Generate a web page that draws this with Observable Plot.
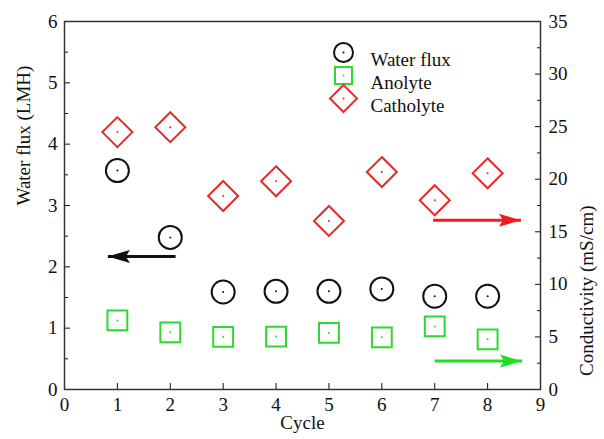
<!DOCTYPE html>
<html>
<head>
<meta charset="utf-8">
<script src="https://cdn.jsdelivr.net/npm/d3@7"></script>
<script src="https://cdn.jsdelivr.net/npm/@observablehq/plot@0.6"></script>
<style>
  html, body { margin: 0; padding: 0; background: #fff; }
  #chart svg { display: block; }
  #chart svg, #chart svg text, #chart svg g { font-family: "Liberation Serif", "Times New Roman", serif !important; }
</style>
</head>
<body>
<div id="chart"></div>
<script>
// ---- data ----
const cycles = [1, 2, 3, 4, 5, 6, 7, 8];
const waterFlux = [3.57, 2.48, 1.59, 1.60, 1.60, 1.64, 1.52, 1.52];      // LMH (left axis)
const anolyte = [6.57, 5.44, 5.00, 5.03, 5.38, 4.96, 6.00, 4.77];         // mS/cm (right axis)
const catholyte = [24.48, 24.95, 18.4, 19.8, 16.03, 20.68, 18.0, 20.56];  // mS/cm (right axis)

const xTickLabels = [0, 1, 2, 3, 4, 5, 6, 7, 8, 9];
const xInnerTicks = [1, 2, 3, 4, 5, 6, 7, 8];
const leftTicks = [0, 1, 2, 3, 4, 5, 6];
const leftMinor = [0.5, 1.5, 2.5, 3.5, 4.5, 5.5];
const rightTicks = [0, 5, 10, 15, 20, 25, 30, 35];
const rightMinor = [2.5, 7.5, 12.5, 17.5, 22.5, 27.5, 32.5];

const seriesNames = ["Water flux", "Anolyte", "Catholyte"];
// arrows: [axis, cycle from, cycle to (tip), value]
const arrowSpecs = [
  {axis: "left", from: 2.1, to: 0.82, value: 2.17, color: "#111111"},
  {axis: "right", from: 6.97, to: 8.63, value: 16.1, color: "#ee1c1c"},
  {axis: "right", from: 7.0, to: 8.65, value: 2.7, color: "#22dd22"}
];

// ---- mapping of the right axis onto the left scale ----
const LEFT_MAX = 6, RIGHT_MAX = 35;
const k = LEFT_MAX / RIGHT_MAX;

const BLACK = "#111111", GREEN = "#2fd82f", RED = "#e62a2a";
const FONT = "'Liberation Serif', 'Times New Roman', serif";

const fluxData = cycles.map((c, i) => ({c, v: waterFlux[i]}));
const anoData = cycles.map((c, i) => ({c, v: anolyte[i] * k}));
const cathData = cycles.map((c, i) => ({c, v: catholyte[i] * k}));
const arrows = arrowSpecs.map(a => ({...a, y: a.axis === "left" ? a.value : a.value * k}));

const headRight = {draw(ctx) { ctx.moveTo(0, 0); ctx.lineTo(-22, -6.5); ctx.lineTo(-18, 0); ctx.lineTo(-22, 6.5); ctx.closePath(); }};
const headLeft = {draw(ctx) { ctx.moveTo(0, 0); ctx.lineTo(22, -6.5); ctx.lineTo(18, 0); ctx.lineTo(22, 6.5); ctx.closePath(); }};
const diamondSym = {draw(ctx, size) { const r = Math.sqrt(size / Math.PI) * 1.25; ctx.moveTo(0, -r); ctx.lineTo(r, 0); ctx.lineTo(0, r); ctx.lineTo(-r, 0); ctx.closePath(); }};

const legendStyles = [
  {symbol: "circle", r: 9.5, stroke: BLACK},
  {symbol: "square", r: 9.6, stroke: GREEN},
  {symbol: diamondSym, r: 10.8, stroke: RED}
];
const legendMarks = seriesNames.flatMap((name, i) => {
  const s = legendStyles[i];
  const dy = 31 + i * 23;
  return [
    Plot.dot([name], {frameAnchor: "top-left", dx: 279, dy, symbol: s.symbol, r: s.r, stroke: s.stroke, strokeWidth: 2, fill: "none"}),
    Plot.dot([name], {frameAnchor: "top-left", dx: 279, dy, r: 1, fill: s.stroke, stroke: "none"}),
    Plot.text([name], {frameAnchor: "top-left", dx: 306, dy, text: d => d, textAnchor: "start", fontSize: 19, fontFamily: FONT, fill: "#111"})
  ];
});

const chart = Plot.plot({
  width: 604,
  height: 439,
  marginLeft: 64,
  marginRight: 64,
  marginTop: 21,
  marginBottom: 50,
  style: {fontFamily: FONT, fontSize: "18px", color: "#111", background: "#fff"},
  x: {domain: [0, 9]},
  y: {domain: [0, LEFT_MAX]},
  marks: [
    // axes
    Plot.axisY({anchor: "left", ticks: leftTicks, tickSize: -6, tickPadding: 13, tickFormat: d => d, label: null, fontSize: 19, fontFamily: FONT}),
    Plot.axisY({anchor: "left", ticks: leftMinor, tickSize: -4, tickFormat: () => "", label: null}),
    Plot.axisY({anchor: "right", ticks: rightTicks.map(v => v * k), tickSize: -6, tickPadding: 14, tickFormat: d => Math.round(d / k), label: null, fontSize: 19, fontFamily: FONT}),
    Plot.axisY({anchor: "right", ticks: rightMinor.map(v => v * k), tickSize: -4, tickFormat: () => "", label: null}),
    Plot.axisX({anchor: "bottom", ticks: xTickLabels, tickSize: 0, tickPadding: 8, tickFormat: d => d, label: null, fontSize: 19, fontFamily: FONT}),
    Plot.axisX({anchor: "bottom", ticks: xInnerTicks, tickSize: -6, tickFormat: () => "", label: null}),
    Plot.frame({stroke: "#333", strokeWidth: 1.5}),
    // axis titles
    Plot.text(["Water flux (LMH)"], {frameAnchor: "left", dx: -41, rotate: -90, text: d => d, fontSize: 19, fontFamily: FONT, fill: "#111"}),
    Plot.text(["Conductivity (mS/cm)"], {frameAnchor: "right", dx: 46, rotate: -90, text: d => d, fontSize: 19, fontFamily: FONT, fill: "#111"}),
    Plot.text(["Cycle"], {frameAnchor: "bottom", dy: 39, text: d => d, fontSize: 19, fontFamily: FONT, fill: "#111"}),
    // series
    Plot.dot(fluxData, {x: "c", y: "v", r: 11.5, stroke: BLACK, strokeWidth: 2, fill: "none"}),
    Plot.dot(fluxData, {x: "c", y: "v", r: 1, fill: BLACK}),
    Plot.dot(anoData, {x: "c", y: "v", symbol: "square", r: 11.2, stroke: GREEN, strokeWidth: 2, fill: "none"}),
    Plot.dot(anoData, {x: "c", y: "v", r: 1, fill: GREEN}),
    Plot.dot(cathData, {x: "c", y: "v", symbol: diamondSym, r: 12, stroke: RED, strokeWidth: 2, fill: "none"}),
    Plot.dot(cathData, {x: "c", y: "v", r: 1, fill: RED}),
    // arrows
    Plot.link(arrows, {x1: "from", x2: "to", y1: "y", y2: "y", stroke: "color", strokeWidth: 3}),
    Plot.dot(arrows.filter(a => a.to > a.from), {x: "to", y: "y", symbol: headRight, r: 5, fill: "color", stroke: "none"}),
    Plot.dot(arrows.filter(a => a.to < a.from), {x: "to", y: "y", symbol: headLeft, r: 5, fill: "color", stroke: "none"}),
    ...legendMarks
  ]
});
document.getElementById("chart").appendChild(chart);
</script>
</body>
</html>
